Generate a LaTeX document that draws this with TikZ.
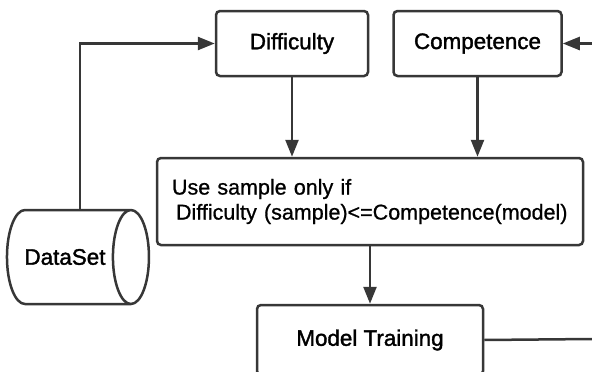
\documentclass[tikz,border=0pt]{standalone}
\usepackage{fontspec}
\setmainfont{Liberation Sans}
\newfontfamily\boxfont[FakeBold=1.6]{Liberation Sans}
\newfontfamily\condfont[FakeBold=0.8]{Liberation Sans}
\usepackage{tikz}
\definecolor{linegray}{RGB}{55,55,55}
\usetikzlibrary{positioning}
\usetikzlibrary{arrows.meta}
\usetikzlibrary{shapes.geometric}
\tikzset{flowbox/.style={rectangle,draw=linegray,fill=white,rounded corners=4pt,line width=2.5pt,text centered,font=\boxfont\fontsize{22.4}{25}\selectfont}}

\begin{document}
\begin{tikzpicture}[x=1pt,y=-1pt,flow/.style={draw=linegray,line width=2.5pt,-{Triangle[length=17pt,width=13pt]}}]
	\useasboundingbox (0,0) rectangle (592,372);
	\node[flowbox,minimum width=152pt,minimum height=65pt] (diff) at (292,43.5) {Difficulty};
	\node[flowbox,minimum width=168pt,minimum height=65pt,right=23pt of diff] (comp) {Competence};
	\node[flowbox,minimum width=426pt,minimum height=87pt,inner xsep=15pt,text width=396pt,align=left,font=\condfont\fontsize{21.5}{25}\selectfont] (cond) at (370,201.5) {Use sample only if\\\hspace*{4pt}Difficulty (sample)<=Competence(model)};
	\node[flowbox,minimum width=226pt,minimum height=70pt] (train) at (370,340) {Model Training};
	\node[flowbox,cylinder,sharp corners,minimum width=94pt,minimum height=142pt,shape aspect=1.6] (data) at (65,257) {DataSet};
	\coordinate (compin) at (592,43.5);
	\coordinate (trainout) at (592,339);
	\draw[flow] ([xshift=15pt]data.north) |- (diff.west);
	\draw[flow] (compin) -- (comp.east);
	\draw[flow] (diff.south) -- (diff.south |- cond.north);
	\draw[flow] (comp.south) -- (comp.south |- cond.north);
	\draw[flow] (cond.south) -- (train.north);
	\draw[draw=linegray,line width=2.5pt] (train.east) -- (trainout);
\end{tikzpicture}
\end{document}
